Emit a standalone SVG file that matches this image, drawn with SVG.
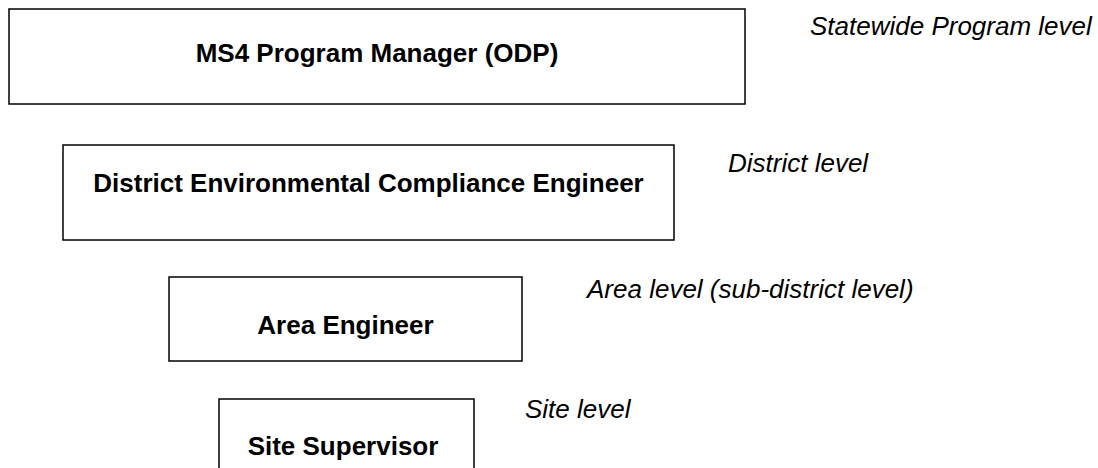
<svg xmlns="http://www.w3.org/2000/svg" width="1098" height="468" viewBox="0 0 1098 468">
  <style>
    .box { fill: #ffffff; stroke: #000000; stroke-width: 1.5; }
    .title { font-family: "Liberation Sans", Arial, sans-serif; font-size: 26px; font-weight: bold; fill: #000000; text-anchor: middle; }
    .level { font-family: "Liberation Sans", Arial, sans-serif; font-size: 26px; font-style: italic; fill: #000000; }
  </style>
  <rect width="1098" height="468" fill="#ffffff"/>

  <g id="program-manager">
    <rect class="box" x="9" y="9" width="736" height="95"/>
    <text class="title" x="377" y="62">MS4 Program Manager (ODP)</text>
  </g>

  <g id="district-engineer">
    <rect class="box" x="63" y="145" width="611" height="95"/>
    <text class="title" x="368.5" y="192">District Environmental Compliance Engineer</text>
  </g>

  <g id="area-engineer">
    <rect class="box" x="169" y="277" width="353" height="84"/>
    <text class="title" x="345.5" y="334">Area Engineer</text>
  </g>

  <g id="site-supervisor">
    <rect class="box" x="219" y="399" width="255" height="80"/>
    <text class="title" x="343" y="455">Site Supervisor</text>
  </g>

  <g id="level-labels">
    <text class="level" x="810" y="35">Statewide Program level</text>
    <text class="level" x="728" y="172">District level</text>
    <text class="level" x="587" y="298">Area level (sub-district level)</text>
    <text class="level" x="525" y="418">Site level</text>
  </g>

  <g id="connectors"></g>
</svg>
